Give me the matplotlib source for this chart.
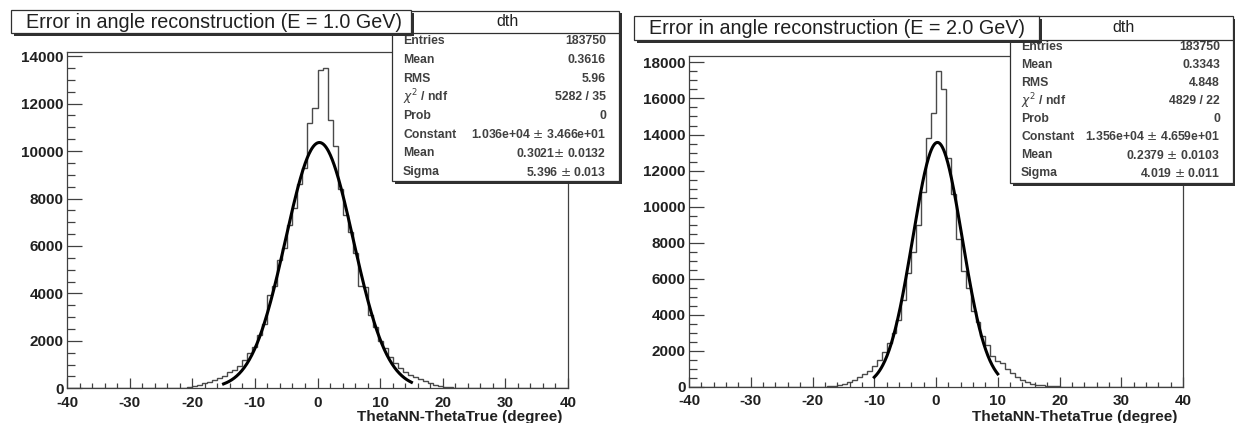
import numpy as np
import matplotlib
matplotlib.use('Agg')
from matplotlib import pyplot as plt
from matplotlib.patches import Rectangle
from matplotlib.ticker import MultipleLocator

plt.rcParams['font.family'] = ['Liberation Sans', 'DejaVu Sans']
plt.rcParams['axes.unicode_minus'] = False

W, H = 1235, 423

# 100 bins of width 0.8 from -40 to 40
edges = np.linspace(-40, 40, 101)

counts_1gev = [0] * 22 + [
    15, 30, 60, 100, 150, 210, 260, 340, 420, 520,
    680, 780, 950, 1200, 1500, 1750, 2250, 2700, 3950, 4300,
    5400, 5900, 6900, 7600, 8600, 9300, 11200, 11800, 13400, 13500,
    11300, 10200, 8400, 7300, 6600, 5700, 4300, 4250, 3100, 2600,
    2000, 1700, 1300, 1050, 850, 700, 580, 470, 380, 290,
    220, 160, 110, 70, 45, 30, 20, 10] + [0] * 20

counts_2gev = [0] * 27 + [
    10, 20, 50, 90, 150, 250, 350, 520, 700, 850,
    1150, 1500, 1900, 2400, 3000, 3700, 4800, 6300, 7500, 9000,
    10800, 13800, 15200, 17500, 16500, 12700, 10700, 8200, 6400, 5500,
    4200, 3600, 2800, 2300, 1700, 1400, 1300, 1000, 750, 550,
    380, 260, 170, 110, 70, 45, 30, 15] + [0] * 25

# fit parameters (constant, mean, sigma) and fit ranges
fit_1gev = (1.036e4, 0.3021, 5.396)
fit_2gev = (1.356e4, 0.2379, 4.019)
range_1gev = (-15, 15)
range_2gev = (-10, 10)

titles = ['Error in angle reconstruction (E = 1.0 GeV)',
          'Error in angle reconstruction (E = 2.0 GeV)']
stat_labels = ['Entries', 'Mean', 'RMS', r'$\chi^2$ / ndf', 'Prob',
               'Constant', 'Mean', 'Sigma']
stats_1gev = ['183750', '0.3616', '5.96', '5282 / 35', '0',
              '1.036e+04 $\\pm$ 3.466e+01', '0.3021$\\pm$ 0.0132', '5.396 $\\pm$ 0.013']
stats_2gev = ['183750', '0.3343', '4.848', '4829 / 22', '0',
              '1.356e+04 $\\pm$ 4.659e+01', '0.2379 $\\pm$ 0.0103', '4.019 $\\pm$ 0.011']
xlabel = 'ThetaNN-ThetaTrue (degree)'

fig = plt.figure(figsize=(W / 100, H / 100), dpi=100)


def fx(px):
    return px / W


def fy(py):
    return 1 - py / H


def box(x0, y0, x1, y1, z, shadow=3):
    # ROOT style pave with a shadow on the lower right
    fig.patches.append(Rectangle((fx(x0 + shadow), fy(y1 + shadow)),
                                 fx(x1 - x0), (y1 - y0) / H,
                                 transform=fig.transFigure, facecolor='#303030',
                                 edgecolor='none', zorder=z))
    fig.patches.append(Rectangle((fx(x0), fy(y1)), fx(x1 - x0), (y1 - y0) / H,
                                 transform=fig.transFigure, facecolor='white',
                                 edgecolor='#303030', lw=0.9, zorder=z + 0.1))


panels = [
    dict(counts=counts_1gev, fit=fit_1gev, rng=range_1gev, ymax=14175,
         ax=(67, 52, 568, 388.3), title=titles[0], tbox=(11, 10.5, 411, 33),
         sbox=(392, 10.5, 619, 181), row0=41.5, rstep=18.65, stats=stats_1gev),
    dict(counts=counts_2gev, fit=fit_2gev, rng=range_2gev, ymax=18375,
         ax=(689, 55.7, 1183, 386.7), title=titles[1], tbox=(634, 16, 1039, 40),
         sbox=(1010, 16, 1233, 183), row0=46.5, rstep=18.1, stats=stats_2gev),
]

for p in panels:
    x0, y0, x1, y1 = p['ax']
    ax = fig.add_axes([fx(x0), fy(y1), fx(x1 - x0), (y1 - y0) / H])
    ax.stairs(p['counts'], edges, color='#4a4a4a', lw=1.0)
    a, mu, sig = p['fit']
    xf = np.linspace(p['rng'][0], p['rng'][1], 300)
    ax.plot(xf, a * np.exp(-0.5 * ((xf - mu) / sig) ** 2), color='black', lw=2.2)
    ax.set_xlim(-40, 40)
    ax.set_ylim(0, p['ymax'])
    ax.xaxis.set_major_locator(MultipleLocator(10))
    ax.xaxis.set_minor_locator(MultipleLocator(2))
    ax.yaxis.set_major_locator(MultipleLocator(2000))
    ax.yaxis.set_minor_locator(MultipleLocator(500))
    ax.tick_params(which='both', direction='in', top=False, right=False,
                   color='#404040', width=0.9)
    ax.tick_params(which='major', labelsize=11)
    ax.tick_params(axis='x', which='major', length=7.2, pad=5.5)
    ax.tick_params(axis='y', which='major', length=10.8, pad=2.5)
    ax.tick_params(axis='x', which='minor', length=3.6)
    ax.tick_params(axis='y', which='minor', length=5.5)
    for lab in ax.get_xticklabels() + ax.get_yticklabels():
        lab.set_fontweight('bold')
        lab.set_color('#202020')
    for s in ax.spines.values():
        s.set_color('#404040')
        s.set_linewidth(0.9)

    # x axis title, right aligned at the end of the axis
    fig.text(fx(x1 - 6), fy(417), xlabel, ha='right', va='center',
             fontsize=11, fontweight='bold', color='#202020')

    # stats pave
    sx0, sy0, sx1, sy1 = p['sbox']
    box(sx0, sy0, sx1, sy1, 5)
    hdr = p['tbox'][3]
    fig.lines.append(plt.Line2D([fx(sx0), fx(sx1)], [fy(hdr), fy(hdr)],
                                transform=fig.transFigure, color='#303030',
                                lw=0.9, zorder=5.5))
    fig.text(fx((sx0 + sx1) / 2 + 2), fy((sy0 + hdr) / 2), 'dth', ha='center',
             va='center', fontsize=11.5, color='#202020', zorder=5.5)
    for i, (lab, val) in enumerate(zip(stat_labels, p['stats'])):
        yy = p['row0'] + p['rstep'] * i
        fig.text(fx(sx0 + 11), fy(yy), lab, ha='left', va='center',
                 fontsize=8.8, fontweight='bold', color='#404040', zorder=5.5)
        fig.text(fx(sx1 - 13), fy(yy), val, ha='right', va='center',
                 fontsize=8.8, fontweight='bold', color='#404040', zorder=5.5)

    # title pave, drawn above the stats pave
    tx0, ty0, tx1, ty1 = p['tbox']
    box(tx0, ty0, tx1, ty1, 7)
    fig.text(fx(tx0 + 15), fy((ty0 + ty1) / 2 + 0.5), p['title'],
             ha='left', va='center', fontsize=14.2, color='#202020', zorder=8)

fig.savefig('out.png', dpi=100)
